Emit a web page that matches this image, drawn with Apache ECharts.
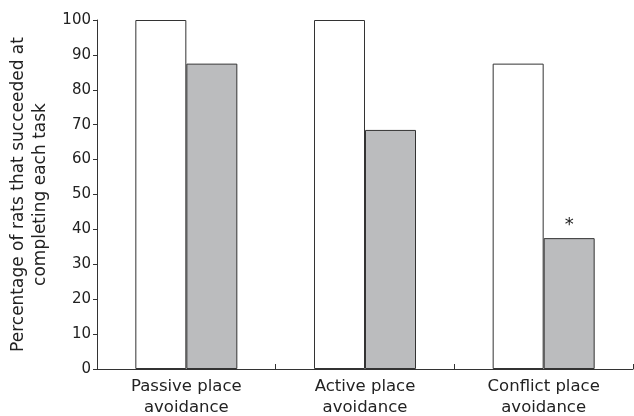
<!DOCTYPE html>
<html>
<head>
<meta charset="utf-8">
<script src="https://cdn.jsdelivr.net/npm/echarts@6/dist/echarts.min.js"></script>
<style>
  html, body { margin: 0; padding: 0; background: #fff; }
  #chart { width: 634px; height: 416px; }
</style>
</head>
<body>
<div id="chart"></div>
<script>
const categories = ['Passive place\navoidance', 'Active place\navoidance', 'Conflict place\navoidance']
const whiteValues = [100, 100, 87.5]
const greyValues = [87.5, 68.5, 37.5]
const greyMarks = ['', '', '*']
const yTicks = { min: 0, max: 100, interval: 10 }

const myChart = echarts.init(document.getElementById('chart'))
const font = 'DejaVu Sans, sans-serif'

const option = {
  animation: false,
  grid: { left: 97, right: 1, top: 20, bottom: 47, outerBoundsMode: 'none', containLabel: false },
  xAxis: {
    type: 'category',
    data: categories,
    axisLine: { lineStyle: { color: '#333', width: 1 } },
    axisTick: { show: true, inside: true, length: 5, lineStyle: { color: '#333' } },
    axisLabel: {
      color: '#222', fontSize: 16.5, fontFamily: font, lineHeight: 21, margin: 7
    }
  },
  yAxis: {
    type: 'value',
    min: yTicks.min,
    max: yTicks.max,
    interval: yTicks.interval,
    name: 'Percentage of rats that succeeded at\ncompleting each task',
    nameLocation: 'middle',
    nameGap: 44,
    nameTextStyle: { color: '#222', fontSize: 17, fontFamily: font, lineHeight: 22 },
    splitLine: { show: false },
    axisLine: { show: true, lineStyle: { color: '#333', width: 1 } },
    axisTick: { show: true, length: 4, lineStyle: { color: '#333' } },
    axisLabel: { color: '#222', fontSize: 15, fontFamily: font, margin: 6 }
  },
  series: [
    {
      type: 'bar',
      data: whiteValues,
      barWidth: 51,
      barGap: '0%',
      itemStyle: { color: '#ffffff', borderColor: '#333', borderWidth: 1 }
    },
    {
      type: 'bar',
      data: greyValues.map((v, i) => ({
        value: v,
        label: { show: greyMarks[i] !== '', formatter: greyMarks[i] }
      })),
      barWidth: 51,
      itemStyle: { color: '#bbbcbe', borderColor: '#333', borderWidth: 1 },
      label: {
        position: 'top', distance: 4, color: '#222', fontSize: 18, fontFamily: font
      }
    }
  ]
}
myChart.setOption(option)
</script>
</body>
</html>
